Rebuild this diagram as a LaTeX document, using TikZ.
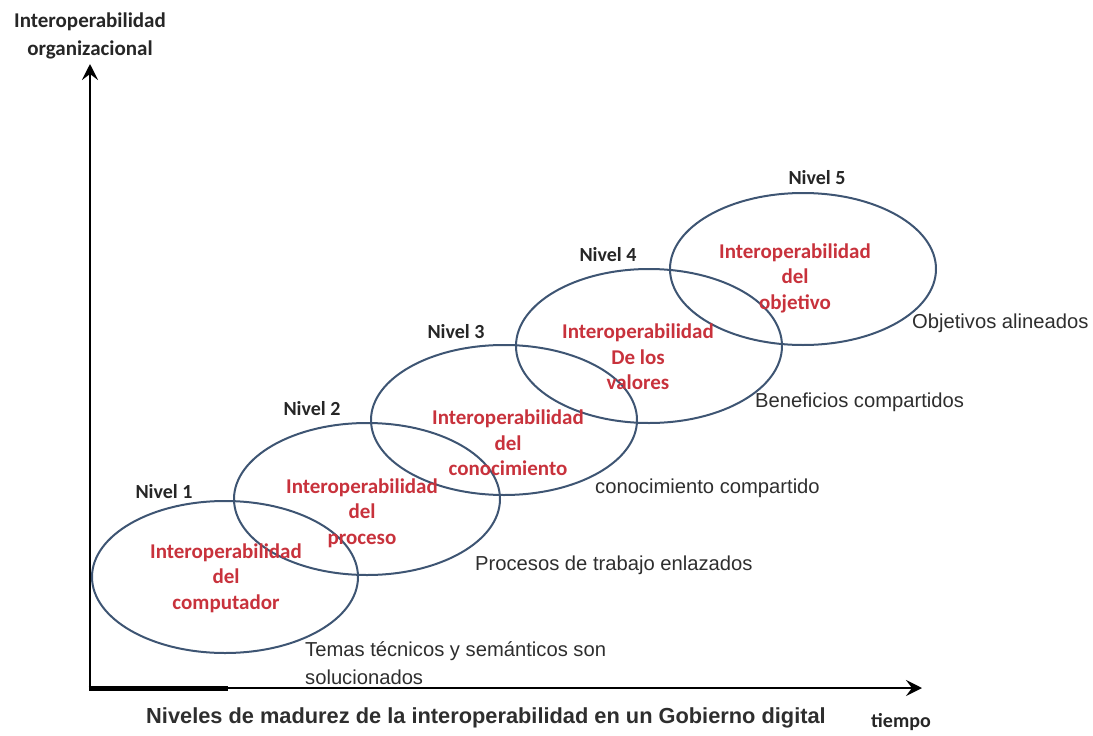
\documentclass[tikz,border=0pt]{standalone}
\usepackage{fontspec}
\setmainfont{Liberation Sans}
\newfontfamily\labfont{Carlito}
\usetikzlibrary{shapes.geometric,arrows.meta}
\definecolor{ellblue}{HTML}{3E5573}
\definecolor{labred}{HTML}{C8323C}
\definecolor{txtgray}{HTML}{2E2E2E}
\begin{document}
\begin{tikzpicture}[x=1pt,y=-1pt,
  lvl/.style={ellipse,draw=ellblue,line width=2pt,inner sep=0pt,minimum width=266pt,minimum height=152pt},
  redlab/.style={text=labred,align=center,font=\labfont\bfseries\fontsize{21}{25.5}\selectfont,inner sep=0pt},
  nivlab/.style={text=black!85,font=\labfont\bfseries\fontsize{20}{24}\selectfont,inner sep=0pt},
  desc/.style={text=txtgray,anchor=west,align=left,font=\fontsize{20.2}{28}\selectfont,inner sep=0pt},
  axis/.style={line width=2.8pt,-{Stealth[length=16pt,width=16pt,inset=6pt]}}
]
\useasboundingbox (0,0) rectangle (1093,736);
% axes
\coordinate (O) at (90,688);
\coordinate (Ytip) at (90,64);
\coordinate (Xtip) at (922,688);
\coordinate (Thick) at (228,688);
\draw[axis] (O) -- (Ytip);
\draw[axis] (O) -- (Xtip);
\draw[line width=5pt] ([xshift=-1.4pt]O) -- (Thick);
% axis labels
\node[font=\labfont\bfseries\fontsize{21}{28}\selectfont,text=black!85,align=center,inner sep=0pt] (ylab) at (90,36) {Interoperabilidad\\organizacional};
\node[font=\labfont\bfseries\fontsize{20}{24}\selectfont,text=black!85,inner sep=0pt] (xlab) at (901,722) {tiempo};
\node[font=\bfseries\fontsize{21.8}{26}\selectfont,text=txtgray,inner sep=0pt] (cap) at (486,718) {Niveles de madurez de la interoperabilidad en un Gobierno digital};
% ellipses
\node[lvl] (e1) at (225,577) {};
\node[lvl] (e2) at (367,499) {};
\node[lvl,minimum height=150pt] (e3) at (504,420) {};
\node[lvl,minimum height=154pt] (e4) at (649,346) {};
\node[lvl] (e5) at (803,269) {};
% red labels
\node[redlab] (r1) at (226,578) {Interoperabilidad\\del\\computador};
\node[redlab] (r2) at (362,513) {Interoperabilidad\\del\\proceso};
\node[redlab] (r3) at (508,443) {Interoperabilidad\\del\\conocimiento};
\node[redlab] (r4) at (638,357) {Interoperabilidad\\De los\\valores};
\node[redlab] (r5) at (795,278) {Interoperabilidad\\del\\objetivo};
% nivel labels
\node[nivlab] (n1) at (164,492) {Nivel 1};
\node[nivlab] (n2) at (312,409) {Nivel 2};
\node[nivlab] (n3) at (456,332) {Nivel 3};
\node[nivlab] (n4) at (608,255) {Nivel 4};
\node[nivlab] (n5) at (817,178) {Nivel 5};
% descriptions
\node[desc] (d1) at (305,663) {Temas técnicos y semánticos son\\solucionados};
\node[desc] (d2) at (475,565) {Procesos de trabajo enlazados};
\node[desc] (d3) at (595,488) {conocimiento compartido};
\node[desc] (d4) at (755,402) {Beneficios compartidos};
\node[desc] (d5) at (912,323) {Objetivos alineados};
\end{tikzpicture}
\end{document}
